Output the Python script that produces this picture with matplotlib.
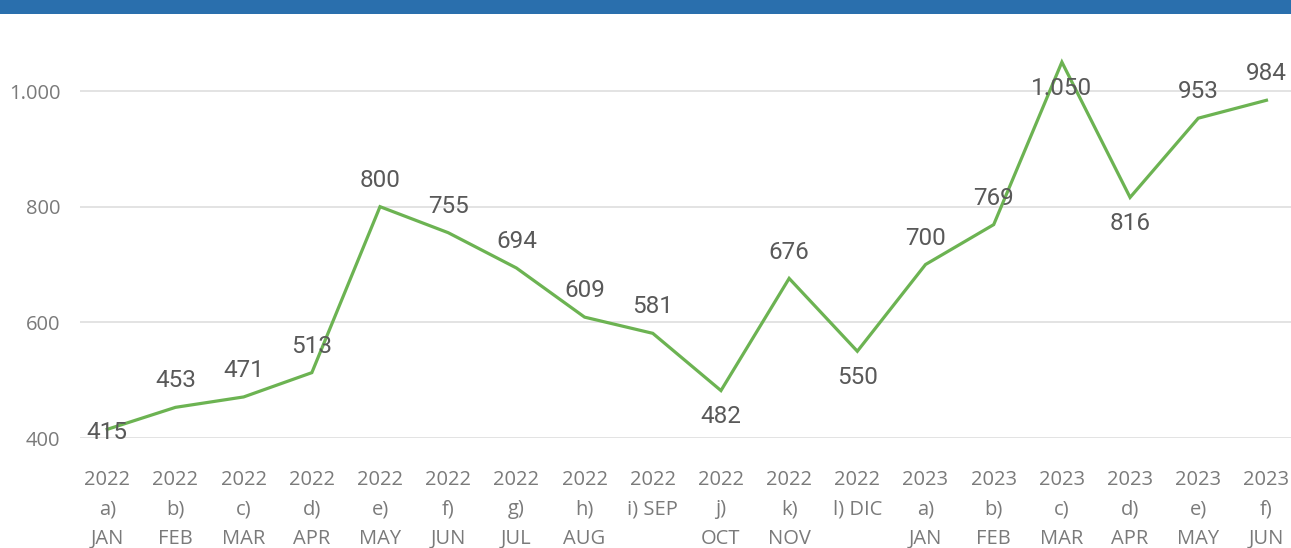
import matplotlib.pyplot as plt
from matplotlib.patches import Rectangle

# 数据
years = ['2022'] * 12 + ['2023'] * 6
months = ['a)\nJAN', 'b)\nFEB', 'c)\nMAR', 'd)\nAPR', 'e)\nMAY', 'f)\nJUN',
          'g)\nJUL', 'h)\nAUG', 'i) SEP', 'j)\nOCT', 'k)\nNOV', 'l) DIC',
          'a)\nJAN', 'b)\nFEB', 'c)\nMAR', 'd)\nAPR', 'e)\nMAY', 'f)\nJUN']
values = [415, 453, 471, 513, 800, 755, 694, 609, 581, 482, 676, 550,
          700, 769, 1050, 816, 953, 984]
value_labels = ['415', '453', '471', '513', '800', '755', '694', '609', '581',
                '482', '676', '550', '700', '769', '1.050', '816', '953', '984']
label_side = [0, 1, 1, 1, 1, 1, 1, 1, 1, -1, 1, -1, 1, 1, -1, -1, 1, 1]
y_ticks = [400, 600, 800, 1000]
y_tick_labels = ['400', '600', '800', '1.000']

W, H = 1291, 548
fig = plt.figure(figsize=(W / 100, H / 100), dpi=100)

# 顶部标题栏
fig.patches.append(Rectangle((0, (H - 14) / H), 1, 14 / H, transform=fig.transFigure,
                             facecolor='#2a6fad', edgecolor='none'))

ax = fig.add_axes([80 / W, (H - 438) / H, (W - 80) / W, (438 - 14) / H])
x = list(range(len(values)))
ax.plot(x, values, color='#6cb352', linewidth=2.3, solid_joinstyle='miter', zorder=3)

for xi, v, lab, side in zip(x, values, value_labels, label_side):
    dy = 19 * side if side != 0 else -2
    ax.annotate(lab, (xi, v), xytext=(0, dy), textcoords='offset points',
                ha='center', va='center', fontsize=17.5, color='#595959',
                family='Roboto', zorder=4)

ax.set_xlim(-0.4, 17.36)
ax.set_ylim(400, 400 + 424 / 0.5783)
ax.set_yticks(y_ticks)
ax.set_yticklabels(y_tick_labels)
ax.set_xticks(x)
ax.set_xticklabels([f'{yr}\n{m}' for yr, m in zip(years, months)], linespacing=1.63)

for lbl in ax.get_xticklabels() + ax.get_yticklabels():
    lbl.set_family('Open Sans')
    lbl.set_fontsize(14.5)
    lbl.set_color('#7a7a7a')

ax.tick_params(axis='both', length=0)
ax.tick_params(axis='x', pad=23)
ax.tick_params(axis='y', pad=14)
ax.grid(True, axis='y', color='#dedede', linewidth=1.2)
ax.set_axisbelow(True)
for s in ax.spines.values():
    s.set_visible(False)

fig.savefig('out.png', dpi=100)
